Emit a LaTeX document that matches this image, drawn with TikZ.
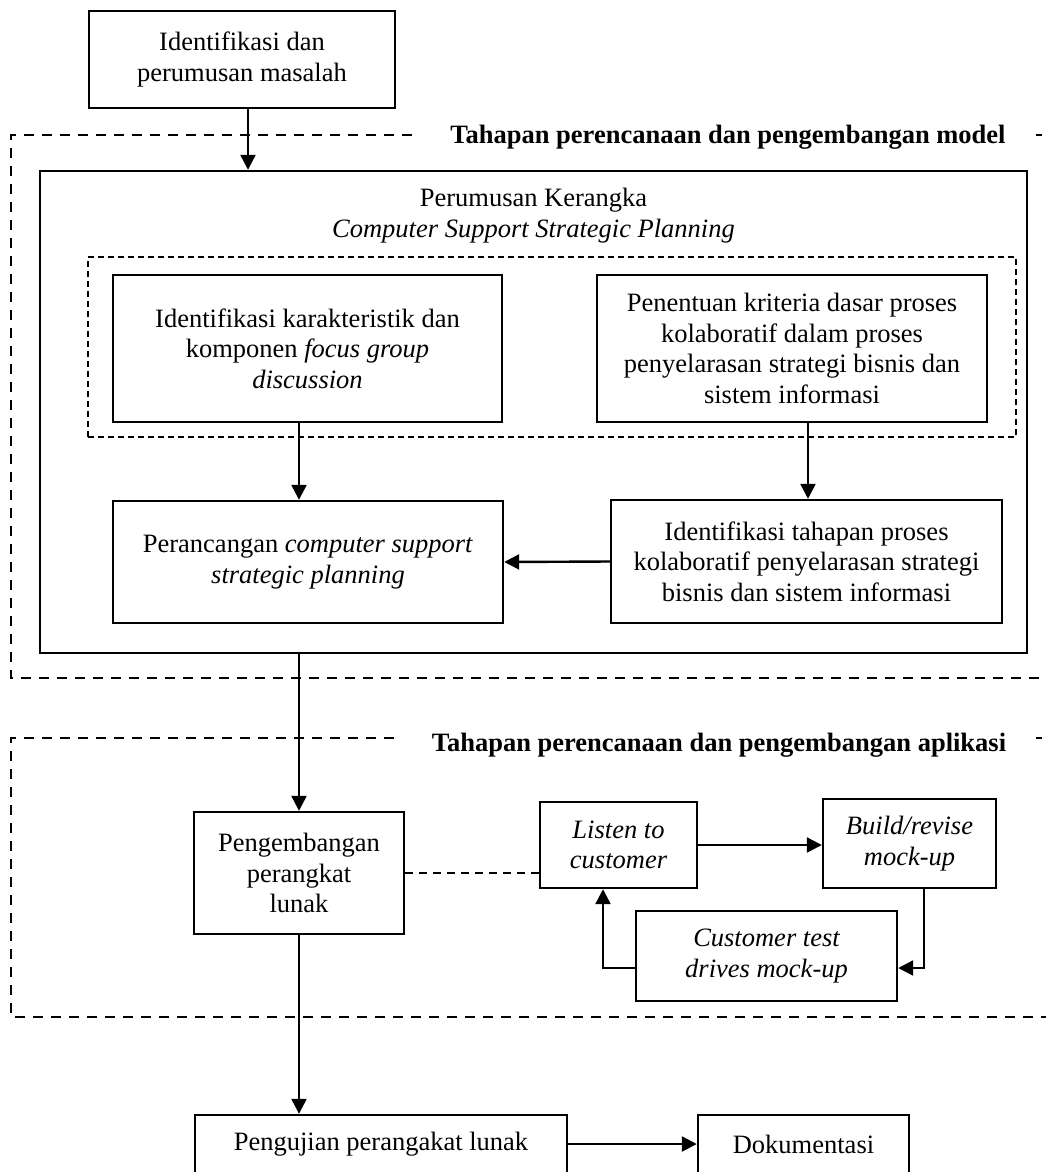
\documentclass[tikz,border=0pt]{standalone}
\usepackage{fontspec}
\setmainfont{Liberation Serif}
\usetikzlibrary{arrows.meta,calc}
\begin{document}
\begin{tikzpicture}[x=1pt,y=-1pt,
  font=\fontsize{26.5pt}{30.5pt}\selectfont,
  box/.style={draw,line width=2.4pt,align=center,inner sep=0pt},
  frame/.style={line width=2.3pt,dash pattern=on 10pt off 8pt},
  inner frame/.style={draw,line width=1.9pt,dash pattern=on 6pt off 4pt,inner sep=0pt},
  link/.style={line width=1.2pt,dash pattern=on 8pt off 6pt},
  arr/.style={line width=2.4pt,-{Triangle[length=15pt,width=15pt]}},
  plain/.style={line width=2.4pt},
  title/.style={fill=white,inner xsep=30pt,inner ysep=2pt,font=\fontsize{26.5pt}{30.5pt}\selectfont\bfseries,anchor=base}]
\useasboundingbox (0,0) rectangle (1046,1172);
\clip (0,0) rectangle (1046,1172);
\fill[white] (0,0) rectangle (1046,1172);

% frames
\draw[frame] (1060,135) -- (11,135) -- (11,678) -- (1060,678);
\draw[frame] (1060,738) -- (11,738) -- (11,1017) -- (1060,1017);
\node[title] (t1) at (728,143) {Tahapan perencanaan dan pengembangan model};
\node[title] (t2) at (719,751) {Tahapan perencanaan dan pengembangan aplikasi};

% top box
\node[box,minimum width=306pt,minimum height=97pt] (top) at (242,59.5) {Identifikasi dan\\perumusan masalah};

% big box
\node[box,minimum width=987pt,minimum height=482pt] (big) at (533.5,412) {};
\node[align=center,inner sep=0pt,anchor=base] (head) at (533.5,237) {Perumusan Kerangka\\\textit{Computer Support Strategic Planning}};
\node[inner frame,minimum width=928pt,minimum height=180pt] (inner) at (552,347) {};

\node[box,minimum width=389pt,minimum height=147pt] (a) at (307.5,348.5) {Identifikasi karakteristik dan\\komponen \textit{focus group}\\\textit{discussion}};
\node[box,minimum width=390pt,minimum height=147pt] (b) at (792,348.5) {Penentuan kriteria dasar proses\\kolaboratif dalam proses\\penyelarasan strategi bisnis dan\\sistem informasi};
\node[box,minimum width=390pt,minimum height=122pt] (c) at (308,562) {Perancangan \textit{computer support}\\\textit{strategic planning}};
\node[box,minimum width=391pt,minimum height=123pt] (d) at (806.5,561.5) {Identifikasi tahapan proses\\kolaboratif penyelarasan strategi\\bisnis dan sistem informasi};

% second stage
\node[box,minimum width=210pt,minimum height=122pt] (peng) at (299,873) {Pengembangan\\perangkat\\lunak};
\node[box,minimum width=157pt,minimum height=86pt,font=\fontsize{26.5pt}{30.5pt}\selectfont\itshape] (listen) at (618.5,845) {Listen to\\customer};
\node[box,minimum width=173pt,minimum height=89pt,font=\fontsize{26.5pt}{30.5pt}\selectfont\itshape] (build) at (909.5,843.5) {Build/revise\\mock-up};
\node[box,minimum width=261pt,minimum height=90pt,font=\fontsize{26.5pt}{30.5pt}\selectfont\itshape] (cust) at (766.5,956) {Customer test\\drives mock-up};

% bottom
\node[box,minimum width=372pt,minimum height=58pt] (uji) at (381,1144) {Pengujian perangakat lunak};
\node[box,minimum width=211pt,minimum height=58pt] (dok) at (803.5,1144) {Dokumentasi};

% coordinates for offset connectors
\coordinate (xtop) at (248,0);
\coordinate (xa) at (299,0);
\coordinate (xb) at (808,0);
\coordinate (xbuild) at (924,0);
\coordinate (xlisten) at (603,0);
\coordinate (yc) at (0,968);

% connectors
\draw[arr] (xtop |- top.south) -- (xtop |- big.north);
\draw[arr] (xa |- a.south) -- (xa |- c.north);
\draw[arr] (xb |- b.south) -- (xb |- d.north);
\draw[arr] (d.west) -- (c.east);
\draw[arr] (big.south -| peng.north) -- (peng.north);
\draw[link] (peng.east) -- (peng.east -| listen.west);
\draw[arr] (listen.east) -- (listen.east -| build.west);
\draw[arr] (xbuild |- build.south) |- (yc -| cust.east);
\draw[plain] (yc -| cust.west) -| (xlisten |- cust.north);
\draw[arr] (xlisten |- cust.north) -- (xlisten |- listen.south);
\draw[arr] (peng.south) -- (peng.south |- uji.north);
\draw[arr] (uji.east) -- (dok.west);
\end{tikzpicture}
\end{document}
